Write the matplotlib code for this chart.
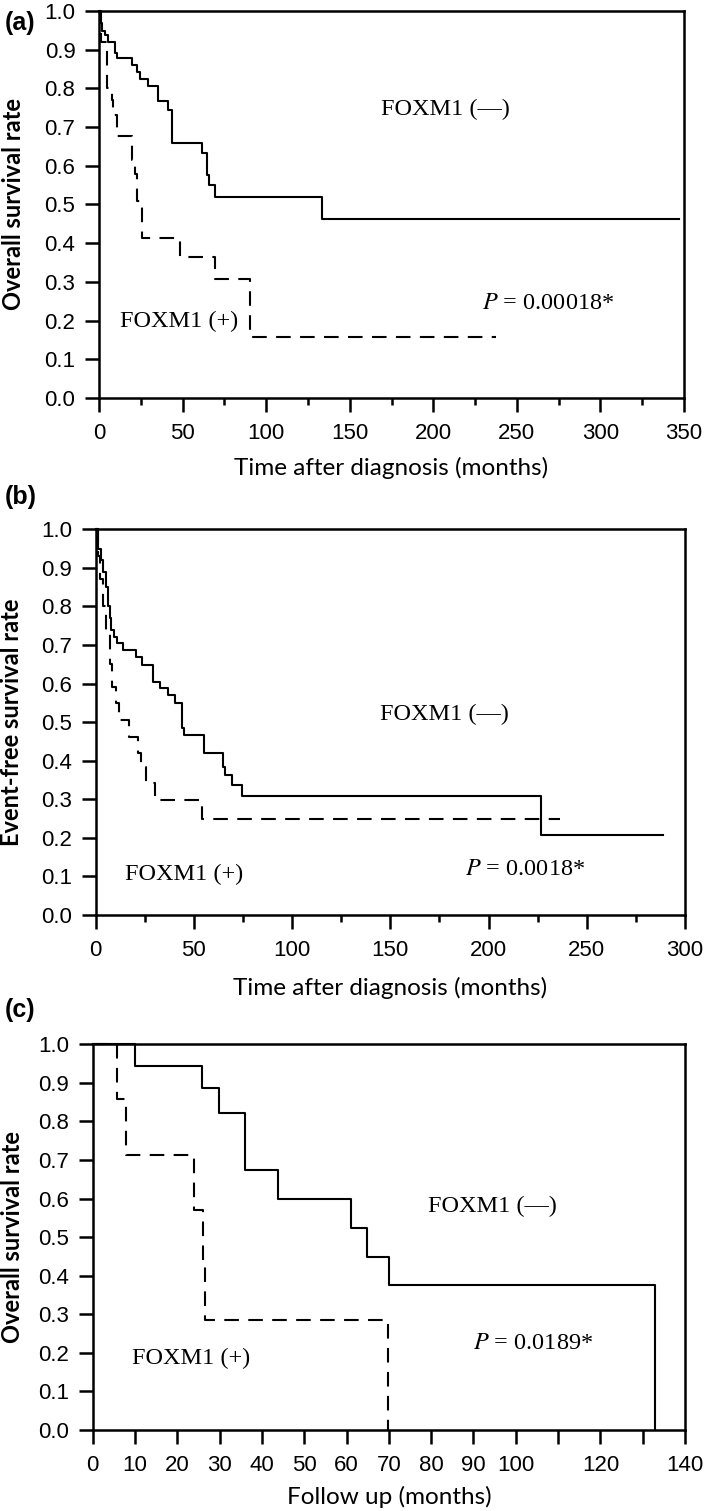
import matplotlib
matplotlib.use("Agg")
import matplotlib.pyplot as plt
from matplotlib.ticker import MultipleLocator, FixedLocator, FixedFormatter

plt.rcParams["mathtext.fontset"] = "stix"

# (a) overall survival, time after diagnosis
a_neg_t = [0, 0.5, 1.5, 3.6, 5.4, 9.6, 10.8, 19.6, 22.6, 24.5, 29.5, 35.5,
           41.5, 43.9, 61.5, 64.8, 66.0, 69.4, 133.3]
a_neg_s = [1.0, 0.97, 0.948, 0.938, 0.921, 0.891, 0.878, 0.860, 0.843, 0.823,
           0.806, 0.768, 0.744, 0.658, 0.632, 0.576, 0.550, 0.519, 0.463]
a_neg_end = 347
a_pos_t = [0, 1, 4.5, 7.5, 8.5, 10.6, 19.6, 21.5, 23.0, 25.5, 48.5, 69.4, 90.4]
a_pos_s = [1.0, 0.92, 0.80, 0.77, 0.731, 0.677, 0.615, 0.58, 0.51, 0.413,
           0.365, 0.307, 0.157]
a_pos_end = 237.4

# (b) event-free survival
b_neg_t = [0, 1, 2.5, 3.6, 5, 6.5, 7.3, 8, 9.5, 11, 14, 20.6, 23.5, 29.4,
           32.8, 37, 40.5, 43.9, 45, 55.3, 64.8, 66, 69.4, 74.5, 226.9]
b_neg_s = [1.0, 0.95, 0.92, 0.89, 0.85, 0.80, 0.77, 0.74, 0.722, 0.704, 0.687,
           0.670, 0.648, 0.605, 0.588, 0.570, 0.549, 0.484, 0.467, 0.419,
           0.384, 0.363, 0.337, 0.309, 0.207]
b_neg_end = 288.6
b_pos_t = [0, 1, 2, 3.5, 5, 7.3, 8.5, 10.5, 12, 16.7, 21.3, 23.0, 25.5, 30.0,
           54.3]
b_pos_s = [1.0, 0.93, 0.87, 0.80, 0.73, 0.65, 0.59, 0.55, 0.506, 0.462, 0.419,
           0.385, 0.341, 0.298, 0.248]
b_pos_end = 236.6

# (c) overall survival, follow up
c_neg_t = [0, 10.0, 25.9, 29.9, 36.0, 43.9, 61.0, 64.9, 70.0, 132.9]
c_neg_s = [1.0, 0.944, 0.886, 0.823, 0.674, 0.599, 0.524, 0.449, 0.375, 0.0]
c_neg_end = 132.9
c_pos_t = [0, 5.8, 7.9, 23.9, 26.0, 26.6, 69.7]
c_pos_s = [1.0, 0.857, 0.714, 0.571, 0.429, 0.286, 0.0]
c_pos_end = 69.7

c_xticks = [0, 10, 20, 30, 40, 50, 60, 70, 80, 90, 100, 110, 120, 130, 140]
c_xticklabels = ["0", "10", "20", "30", "40", "50", "60", "70", "80", "90",
                 "100", "", "120", "", "140"]

SANS = "Liberation Sans"
SERIF = "Liberation Serif"
LABEL = "Lato"


def km(ax, t, s, end, dashed=False):
    x = list(t) + [end]
    y = list(s) + [s[-1]]
    ls = (0, (7, 4.5)) if dashed else "-"
    ax.step(x, y, where="post", color="black", lw=1.5, linestyle=ls,
            clip_on=False)


def style(ax, xmax, ylabel, xlabel, ylab_x):
    ax.set_xlim(0, xmax)
    ax.set_ylim(0, 1.0)
    ax.yaxis.set_major_locator(MultipleLocator(0.1))
    for sp in ax.spines.values():
        sp.set_linewidth(1.8)
    ax.tick_params(which="major", direction="out", length=10, width=1.8,
                   labelsize=16, pad=8)
    ax.tick_params(axis="y", pad=7)
    ax.tick_params(which="minor", direction="out", length=5, width=1.8)
    for lab in ax.get_xticklabels() + ax.get_yticklabels():
        lab.set_fontfamily(SANS)
    ax.yaxis.set_major_formatter(plt.FuncFormatter(lambda v, p: f"{v:.1f}"))
    ax.set_ylabel(ylabel, fontfamily=LABEL, fontweight="bold", fontsize=17,
                  va="center")
    ax.yaxis.set_label_coords(ylab_x, 0.5)
    ax.set_xlabel(xlabel, fontfamily=LABEL, fontsize=17.5, va="center")


def serif_text(ax, x, y, s):
    ax.text(x, y, s, fontfamily=SERIF, fontsize=17.5, va="center", ha="left")


fig = plt.figure(figsize=(7.09, 15.11), dpi=100)
H = 1511.0
W = 709.0


def add_axes(left, right, top, bottom):
    return fig.add_axes([left / W, 1 - bottom / H, (right - left) / W,
                         (bottom - top) / H])


# panel (a)
ax = add_axes(99, 684, 11, 398)
km(ax, a_neg_t, a_neg_s, a_neg_end)
km(ax, a_pos_t, a_pos_s, a_pos_end, dashed=True)
ax.xaxis.set_major_locator(MultipleLocator(50))
ax.xaxis.set_minor_locator(MultipleLocator(25))
style(ax, 350, "Overall survival rate", "Time after diagnosis (months)", -0.146)
ax.xaxis.set_label_coords(0.5, -(468 - 398) / 387)
serif_text(ax, 169, 0.745, "FOXM1 (\u2014)")
serif_text(ax, 12.6, 0.197, "FOXM1 (+)")
serif_text(ax, 229, 0.243, "$P$ = 0.00018*")
fig.text(5 / W, 1 - 23 / H, "(a)", fontfamily=SANS, fontweight="bold",
         fontsize=18, va="center", ha="left")

# panel (b)
ax = add_axes(95.7, 685, 529.3, 915)
km(ax, b_neg_t, b_neg_s, b_neg_end)
km(ax, b_pos_t, b_pos_s, b_pos_end, dashed=True)
ax.xaxis.set_major_locator(MultipleLocator(50))
ax.xaxis.set_minor_locator(MultipleLocator(25))
style(ax, 300, "Event-free survival rate", "Time after diagnosis (months)",
      -0.1437)
ax.xaxis.set_label_coords(0.5, -(988 - 915) / 385.7)
serif_text(ax, 144.9, 0.519, "FOXM1 (\u2014)")
serif_text(ax, 14.9, 0.104, "FOXM1 (+)")
serif_text(ax, 188.2, 0.117, "$P$ = 0.0018*")
fig.text(5 / W, 1 - 497 / H, "(b)", fontfamily=SANS, fontweight="bold",
         fontsize=18, va="center", ha="left")

# panel (c)
ax = add_axes(92.7, 685, 1044.3, 1430)
km(ax, c_neg_t, c_neg_s, c_neg_end)
km(ax, c_pos_t, c_pos_s, c_pos_end, dashed=True)
ax.xaxis.set_major_locator(FixedLocator(c_xticks))
ax.xaxis.set_major_formatter(FixedFormatter(c_xticklabels))
style(ax, 140, "Overall survival rate", "Follow up (months)", -0.1346)
ax.xaxis.set_label_coords(0.5, -(1497 - 1430) / 385.7)
serif_text(ax, 79.3, 0.579, "FOXM1 (\u2014)")
serif_text(ax, 9.4, 0.186, "FOXM1 (+)")
serif_text(ax, 90.0, 0.225, "$P$ = 0.0189*")
fig.text(5 / W, 1 - 1010 / H, "(c)", fontfamily=SANS, fontweight="bold",
         fontsize=18, va="center", ha="left")

fig.savefig("out.png", dpi=100)
